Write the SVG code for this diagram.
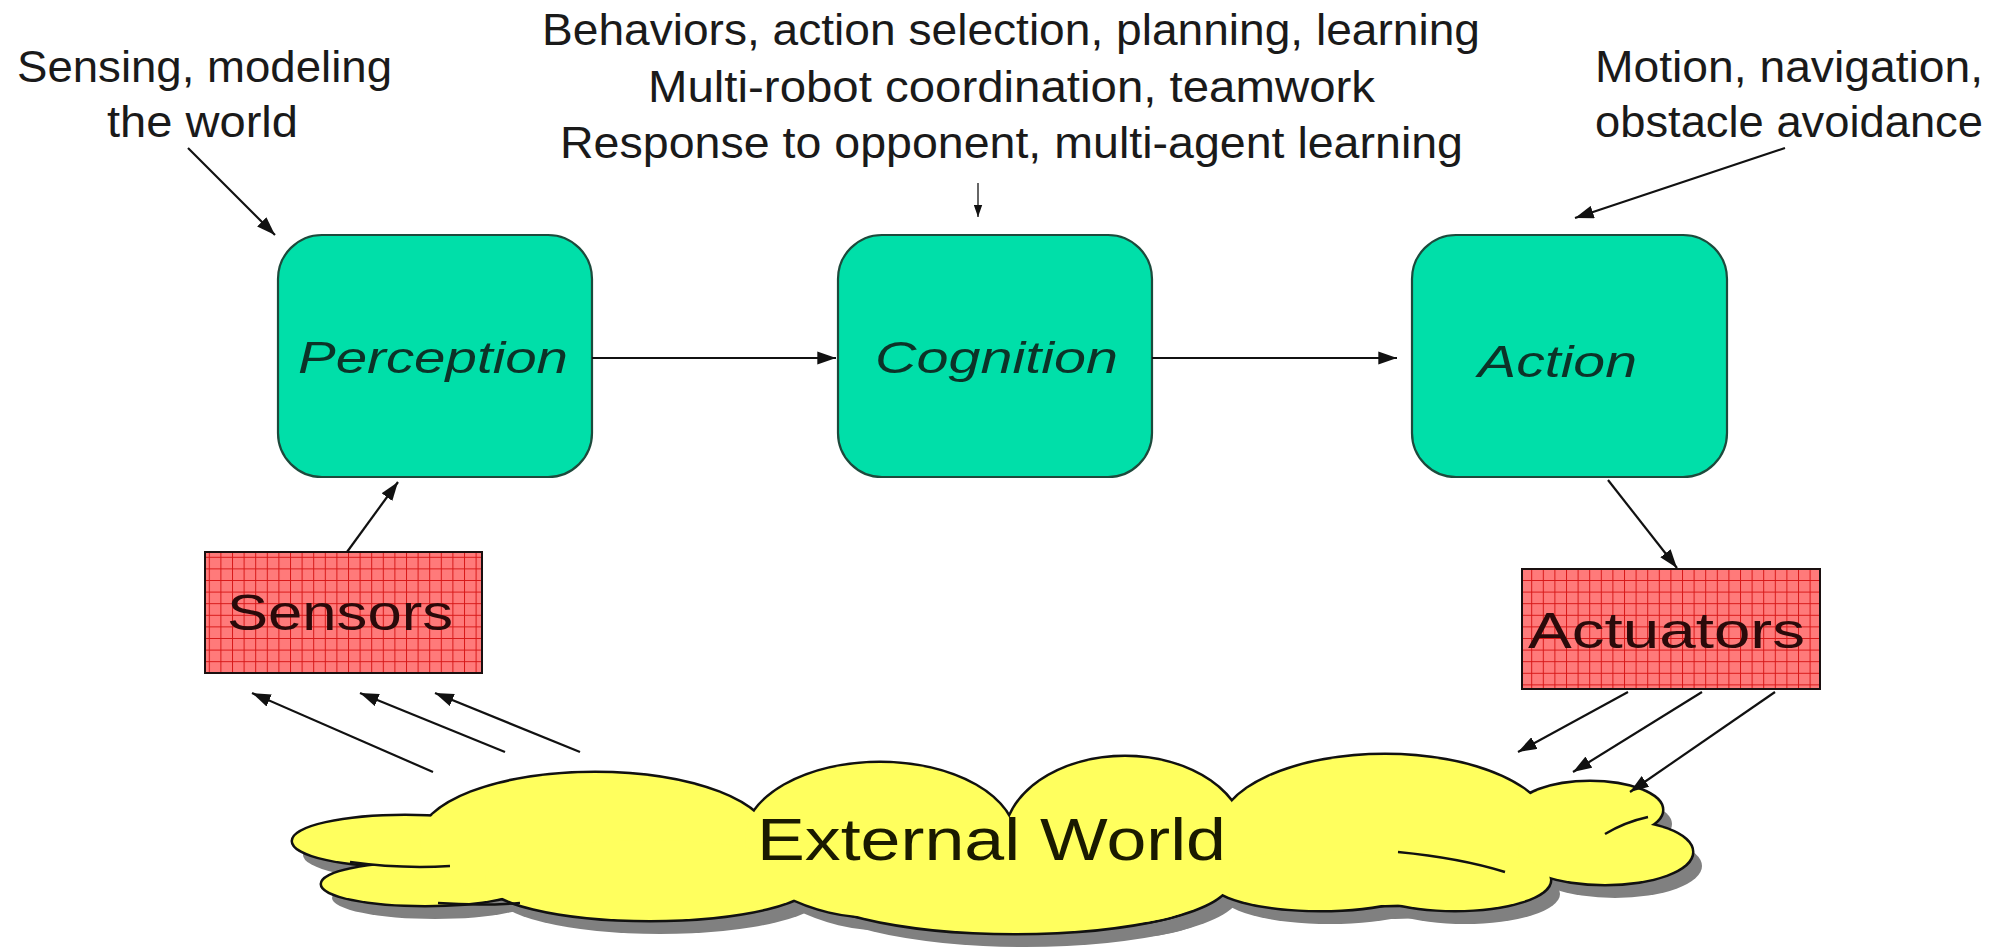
<svg xmlns="http://www.w3.org/2000/svg" width="2000" height="947" viewBox="0 0 2000 947">
<style>
.lbl{font-family:"Liberation Sans",Arial,sans-serif;font-size:45px;fill:#1a1a1a}
.box{fill:#00DFA9;stroke:#1d4a3c;stroke-width:2.2}
.boxtxt{font-family:"Liberation Sans",Arial,sans-serif;font-size:44px;font-style:italic;fill:#0c3328}
.hw{stroke:#1a1010;stroke-width:2;fill:url(#grid)}
.hwtxt{font-family:"Liberation Sans",Arial,sans-serif;font-size:50px;fill:#2a0a0a}
.conn{stroke:#111;stroke-width:2.2;fill:none;marker-end:url(#ah)}
.thin{stroke:#333;stroke-width:1.5;fill:none;marker-end:url(#ahs)}
.inner{stroke:#111;stroke-width:2.5;fill:none}
</style>
<defs>
<marker id="ah" viewBox="0 0 10 7" refX="10" refY="3.5" markerWidth="8.5" markerHeight="6" markerUnits="strokeWidth" orient="auto">
<path d="M0 0 L10 3.5 L0 7 Z" fill="#111"/>
</marker>
<marker id="ahs" viewBox="0 0 10 7" refX="10" refY="3.5" markerWidth="8" markerHeight="6" markerUnits="strokeWidth" orient="auto">
<path d="M0 0 L10 3.5 L0 7 Z" fill="#111"/>
</marker>
<pattern id="grid" patternUnits="userSpaceOnUse" width="11.6" height="11.6">
<rect width="11.6" height="11.6" fill="#FF7a7a"/>
<path d="M0 0.5 H11.6 M0.5 0 V11.6" stroke="#D81818" stroke-width="1"/>
</pattern>
<g id="cloudshape">
<ellipse cx="405" cy="841" rx="112" ry="25"/>
<ellipse cx="425" cy="884" rx="103" ry="21"/>
<ellipse cx="595" cy="840" rx="175" ry="67"/>
<ellipse cx="880" cy="840" rx="135" ry="77"/>
<ellipse cx="1125" cy="840" rx="120" ry="83"/>
<ellipse cx="1385" cy="830" rx="165" ry="75"/>
<ellipse cx="1590" cy="810" rx="72" ry="28"/>
<ellipse cx="1605" cy="852" rx="87" ry="32"/>
<ellipse cx="1455" cy="880" rx="95" ry="30"/>
<ellipse cx="1320" cy="880" rx="110" ry="30"/>
<ellipse cx="1015" cy="880" rx="215" ry="53"/>
<ellipse cx="650" cy="880" rx="165" ry="40"/>
</g>
</defs>
<rect width="2000" height="947" fill="#ffffff"/>

<g id="external-world">
<use href="#cloudshape" fill="#808080" transform="translate(10,14)"/>
<use href="#cloudshape" fill="#111" stroke="#111" stroke-width="5"/>
<use href="#cloudshape" fill="#FFFF5E"/>
<path class="inner" d="M350 862 Q 400 869 450 866"/>
<path class="inner" d="M438 903 Q 480 906 520 903"/>
<path class="inner" d="M1398 852 Q 1460 858 1505 872"/>
<path class="inner" d="M1605 834 Q 1625 822 1648 817"/>
<text x="757" y="860" font-family="Liberation Sans, Arial, sans-serif" font-size="60" fill="#1a1a00" textLength="469" lengthAdjust="spacingAndGlyphs">External World</text>
</g>

<g id="perception">
<rect class="box" x="278" y="235" width="314" height="242" rx="44" ry="44"/>
<text class="boxtxt" x="298" y="373" textLength="270" lengthAdjust="spacingAndGlyphs">Perception</text>
</g>
<g id="cognition">
<rect class="box" x="838" y="235" width="314" height="242" rx="44" ry="44"/>
<text class="boxtxt" x="875" y="373" textLength="243" lengthAdjust="spacingAndGlyphs">Cognition</text>
</g>
<g id="action">
<rect class="box" x="1412" y="235" width="315" height="242" rx="44" ry="44"/>
<text class="boxtxt" x="1478" y="377" textLength="159" lengthAdjust="spacingAndGlyphs">Action</text>
</g>
<g id="sensors">
<rect class="hw" x="205" y="552" width="277" height="121"/>
<text class="hwtxt" x="227" y="630" textLength="226" lengthAdjust="spacingAndGlyphs">Sensors</text>
</g>
<g id="actuators">
<rect class="hw" x="1522" y="569" width="298" height="120"/>
<text class="hwtxt" x="1528" y="648" textLength="277" lengthAdjust="spacingAndGlyphs">Actuators</text>
</g>

<g id="label-sensing">
<text class="lbl" x="17" y="82" textLength="375" lengthAdjust="spacingAndGlyphs">Sensing, modeling</text>
<text class="lbl" x="107" y="137" textLength="191" lengthAdjust="spacingAndGlyphs">the world</text>
</g>
<g id="label-cognition">
<text class="lbl" x="542" y="45" textLength="938" lengthAdjust="spacingAndGlyphs">Behaviors, action selection, planning, learning</text>
<text class="lbl" x="648" y="102" textLength="727" lengthAdjust="spacingAndGlyphs">Multi-robot coordination, teamwork</text>
<text class="lbl" x="560" y="158" textLength="903" lengthAdjust="spacingAndGlyphs">Response to opponent, multi-agent learning</text>
</g>
<g id="label-motion">
<text class="lbl" x="1595" y="82" textLength="388" lengthAdjust="spacingAndGlyphs">Motion, navigation,</text>
<text class="lbl" x="1595" y="137" textLength="388" lengthAdjust="spacingAndGlyphs">obstacle avoidance</text>
</g>

<g id="connectors">
<line class="conn" x1="188" y1="148" x2="275" y2="235"/>
<line class="thin" x1="978" y1="183" x2="978" y2="217"/>
<line class="conn" x1="1785" y1="148" x2="1575" y2="218"/>
<line class="conn" x1="592" y1="358" x2="836" y2="358"/>
<line class="conn" x1="1152" y1="358" x2="1397" y2="358"/>
<line class="conn" x1="347" y1="552" x2="398" y2="482"/>
<line class="conn" x1="1608" y1="480" x2="1677" y2="568"/>
<line class="conn" x1="433" y1="772" x2="252" y2="693"/>
<line class="conn" x1="505" y1="752" x2="360" y2="693"/>
<line class="conn" x1="580" y1="752" x2="435" y2="693"/>
<line class="conn" x1="1628" y1="692" x2="1518" y2="752"/>
<line class="conn" x1="1702" y1="692" x2="1573" y2="772"/>
<line class="conn" x1="1775" y1="692" x2="1630" y2="792"/>
</g>
</svg>
